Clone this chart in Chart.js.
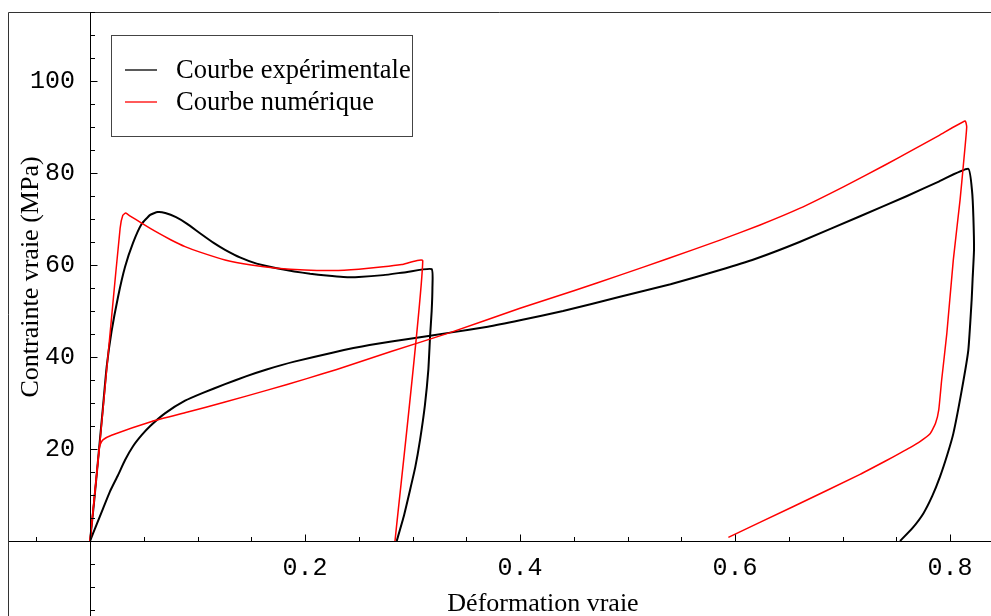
<!DOCTYPE html>
<html>
<head>
<meta charset="utf-8">
<script src="https://cdn.jsdelivr.net/npm/chart.js@4.4.1/dist/chart.umd.min.js"></script>
<style>
  html, body { margin: 0; padding: 0; background: #fff; }
  canvas { display: block; }
</style>
</head>
<body>
<canvas id="chart" width="991" height="616"></canvas>
<script>
// --- Data ---

const expLabel = "Courbe expérimentale";
const numLabel = "Courbe numérique";

// experimental, first test (load to ~0.32 then unload)
const expCycle1Strain = [0, 0.004, 0.008, 0.012, 0.0155, 0.02, 0.026, 0.0326, 0.04, 0.048, 0.056, 0.063, 0.07, 0.08, 0.09, 0.1023, 0.115, 0.1256, 0.14, 0.155, 0.1737, 0.19, 0.2047, 0.22, 0.2357, 0.25, 0.2729, 0.295, 0.3178, 0.3185, 0.3178, 0.3163, 0.3147, 0.3115, 0.307, 0.3025, 0.2977, 0.292, 0.2853];
const expCycle1Stress = [0, 9, 19, 29, 37.9, 45.5, 53, 59.6, 64.8, 68.9, 70.9, 71.5, 71.3, 70.4, 69.0, 66.9, 64.8, 63.3, 61.6, 60.3, 59.3, 58.6, 58.1, 57.7, 57.4, 57.4, 57.8, 58.5, 59.1, 55, 50, 44.4, 37.2, 29.5, 22, 16, 11.1, 5.5, 0];

// experimental, second test (load to ~0.82 then unload)
const expCycle2Strain = [0, 0.006, 0.012, 0.0186, 0.026, 0.0326, 0.04, 0.048, 0.056, 0.07, 0.0884, 0.105, 0.1256, 0.145, 0.1643, 0.19, 0.2264, 0.26, 0.3008, 0.335, 0.37, 0.4, 0.44, 0.493, 0.54, 0.586, 0.6186, 0.66, 0.7163, 0.76, 0.79, 0.817, 0.8205, 0.8217, 0.8223, 0.821, 0.8201, 0.817, 0.8109, 0.8031, 0.7975, 0.7907, 0.7835, 0.7752, 0.765, 0.7535];
const expCycle2Stress = [0, 3.5, 7, 10.8, 14.3, 17.6, 20.6, 23, 25, 27.8, 30.5, 32.2, 34.1, 35.8, 37.3, 39.0, 41.0, 42.6, 44.1, 45.3, 46.6, 48, 50, 53.1, 55.8, 58.9, 61.3, 65, 70.6, 75, 78.2, 80.9, 76, 70.5, 63.3, 57, 52.4, 41.5, 32.8, 23.4, 18.8, 14, 9.8, 6, 2.8, 0];

// numerical, first cycle
const numCycle1Strain = [0, 0.009, 0.02, 0.028, 0.0305, 0.0332, 0.037, 0.048, 0.06, 0.075, 0.0884, 0.1023, 0.1256, 0.15, 0.1737, 0.2, 0.2264, 0.25, 0.2727, 0.29, 0.3095, 0.2837];
const numCycle1Stress = [0, 21, 48.5, 68, 70.8, 71.3, 70.7, 69.1, 67.4, 65.5, 64, 62.8, 61.1, 60, 59.3, 58.9, 58.8, 59.1, 59.6, 60.1, 60.9, 0];

// numerical, second cycle
const numCycle2Strain = [0, 0.0085, 0.0095, 0.012, 0.02, 0.0574, 0.09, 0.1256, 0.165, 0.2016, 0.2295, 0.28, 0.3349, 0.4, 0.45, 0.493, 0.5364, 0.586, 0.6233, 0.66, 0.7008, 0.74, 0.7628, 0.79, 0.814, 0.8155, 0.8125, 0.8093, 0.803, 0.797, 0.7922, 0.7895, 0.7865, 0.7814, 0.772, 0.7628, 0.7535, 0.74, 0.7163, 0.6543, 0.5938];
const numCycle2Stress = [0, 20, 21, 22, 23, 26.0, 28.0, 30.2, 32.8, 35.3, 37.3, 41.2, 45.3, 50.6, 54.4, 57.8, 61.3, 65.4, 68.7, 72.3, 77, 81.8, 84.7, 88.2, 91.3, 90, 82, 74.1, 61, 45.1, 35, 28.5, 25.6, 23.3, 21.6, 20.3, 19.1, 17.4, 14.5, 7.5, 0.8];

// axes
const xMajorTicks = [0.2, 0.4, 0.6, 0.8];
const yMajorTicks = [20, 40, 60, 80, 100];
const xMinorStep = 0.05;
const yMinorStep = 5;
const X_MIN = -0.0763;
const X_MAX = 0.8381;
const Y_MIN = -16.3;
const Y_MAX = 115;
// y labels sit a little left of the axis (right edge of the text)
const Y_LABEL_X = -0.014;

const xTitle = "Déformation vraie";
const yTitle = "Contrainte vraie (MPa)";

// --- Helpers ---

function toPoints(xs, ys) {
  return xs.map((x, i) => ({ x: x, y: ys[i] }));
}

function lineSet(label, xs, ys, color, width, order) {
  return {
    label: label,
    data: toPoints(xs, ys),
    showLine: true,
    borderColor: color,
    backgroundColor: color,
    borderWidth: width,
    pointRadius: 0,
    tension: 0.15,
    order: order,
  };
}

function noPadding(scale) {
  scale.paddingTop = 0;
  scale.paddingBottom = 0;
  scale.paddingLeft = 0;
  scale.paddingRight = 0;
}

// draws the frame, y axis line, inward tick marks, titles and the boxed legend
const decorPlugin = {
  id: "decor",
  afterDraw(chart) {
    const { ctx, chartArea, scales } = chart;
    const xs = scales.x;
    const ys = scales.y;
    const x0 = Math.round(xs.getPixelForValue(0)) + 0.5;
    const y0 = Math.round(ys.getPixelForValue(0)) + 0.5;

    ctx.save();

    // frame (left + top, the rest is off the picture)
    ctx.strokeStyle = "#333";
    ctx.lineWidth = 1;
    ctx.beginPath();
    ctx.moveTo(chartArea.left + 0.5, chartArea.bottom);
    ctx.lineTo(chartArea.left + 0.5, chartArea.top + 0.5);
    ctx.lineTo(chartArea.right, chartArea.top + 0.5);
    ctx.stroke();

    // y axis line
    ctx.strokeStyle = "#000";
    ctx.beginPath();
    ctx.moveTo(x0, chartArea.top);
    ctx.lineTo(x0, chartArea.bottom);
    ctx.stroke();

    // tick marks
    ctx.beginPath();
    for (let v = Math.ceil(X_MIN / xMinorStep) * xMinorStep; v <= X_MAX; v += xMinorStep) {
      const r = Math.round(v * 100) / 100;
      if (Math.abs(r) < 1e-9) continue;
      const major = xMajorTicks.some((t) => Math.abs(t - r) < 1e-9);
      const px = Math.round(xs.getPixelForValue(r)) + 0.5;
      ctx.moveTo(px, y0);
      ctx.lineTo(px, y0 - (major ? 7 : 4.5));
    }
    for (let v = Math.ceil(Y_MIN / yMinorStep) * yMinorStep; v <= Y_MAX; v += yMinorStep) {
      if (v === 0) continue;
      const major = yMajorTicks.includes(v);
      const py = Math.round(ys.getPixelForValue(v)) + 0.5;
      ctx.moveTo(x0, py);
      ctx.lineTo(x0 + (major ? 7 : 4.5), py);
    }
    ctx.stroke();

    // axis titles
    ctx.fillStyle = "#000";
    ctx.font = "26px 'Liberation Serif', 'Times New Roman', serif";
    ctx.textAlign = "center";
    ctx.textBaseline = "alphabetic";
    ctx.fillText(xTitle, 543, 611);

    ctx.save();
    ctx.translate(38, 277);
    ctx.rotate(-Math.PI / 2);
    ctx.fillText(yTitle, 0, 0);
    ctx.restore();

    // legend box
    const lx = 111, ly = 35, lw = 301, lh = 101;
    ctx.fillStyle = "#fff";
    ctx.fillRect(lx, ly, lw, lh);
    ctx.strokeStyle = "#444";
    ctx.strokeRect(lx + 0.5, ly + 0.5, lw, lh);

    ctx.font = "26.5px 'Liberation Serif', 'Times New Roman', serif";
    const entries = [chart.data.datasets[0], chart.data.datasets[2]];
    entries.forEach((ds, i) => {
      const cy = 70 + i * 32;
      ctx.strokeStyle = ds.borderColor;
      ctx.lineWidth = 1.3;
      ctx.beginPath();
      ctx.moveTo(125, cy);
      ctx.lineTo(157, cy);
      ctx.stroke();
      ctx.fillStyle = "#000";
      ctx.textAlign = "left";
      ctx.fillText(ds.label, 176, cy + 8);
    });

    ctx.restore();
  },
};

// --- Chart ---

const chart = new Chart(document.getElementById("chart"), {
  type: "scatter",
  data: {
    datasets: [
      lineSet(expLabel, expCycle1Strain, expCycle1Stress, "#000000", 2, 2),
      lineSet(expLabel, expCycle2Strain, expCycle2Stress, "#000000", 2, 2),
      lineSet(numLabel, numCycle1Strain, numCycle1Stress, "#ff0000", 1.5, 1),
      lineSet(numLabel, numCycle2Strain, numCycle2Stress, "#ff0000", 1.5, 1),
    ],
  },
  options: {
    responsive: false,
    animation: false,
    layout: { padding: { left: 8, top: 12, right: 0, bottom: 0 } },
    plugins: {
      legend: { display: false },
      tooltip: { enabled: false },
    },
    scales: {
      x: {
        type: "linear",
        min: X_MIN,
        max: X_MAX,
        position: { y: 0 },
        afterBuildTicks: (scale) => {
          scale.ticks = xMajorTicks.map((v) => ({ value: v }));
        },
        afterFit: noPadding,
        ticks: {
          autoSkip: false,
          maxRotation: 0,
          padding: 12,
          color: "#000",
          font: { family: "'Liberation Mono', 'Courier New', monospace", size: 25 },
          callback: (v) => Number(v).toFixed(1),
        },
        grid: { display: true, drawOnChartArea: false, drawTicks: false },
        border: { display: true, color: "#000", width: 1 },
      },
      y: {
        type: "linear",
        min: Y_MIN,
        max: Y_MAX,
        position: { x: Y_LABEL_X },
        afterBuildTicks: (scale) => {
          scale.ticks = yMajorTicks.map((v) => ({ value: v }));
        },
        afterFit: noPadding,
        ticks: {
          autoSkip: false,
          color: "#000",
          font: { family: "'Liberation Mono', 'Courier New', monospace", size: 25 },
          callback: (v) => String(v),
        },
        grid: { display: false, drawTicks: false },
        border: { display: false },
      },
    },
  },
  plugins: [decorPlugin],
});
</script>
</body>
</html>
